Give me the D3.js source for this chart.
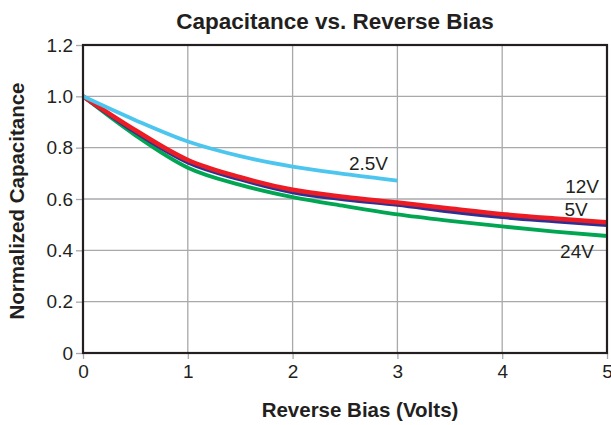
<!DOCTYPE html>
<html>
  <head>
    <meta charset="utf-8">
    <title>Capacitance vs. Reverse Bias</title>
    <script src="https://cdn.jsdelivr.net/npm/d3@7"></script>
    <style>
      body { margin: 0; background: #fff; }
      svg text { font-family: "Liberation Sans", Arial, Helvetica, sans-serif; fill: #231f20; }
      .title, .axisTitle { font-weight: bold; }
    </style>
  </head>

  <body>
    <svg id="chart" width="611" height="425"></svg>

    <script>
      // data
      bias = [0, 0.5, 1, 1.5, 2, 2.5, 3, 3.5, 4, 4.5, 5];
      cap2V5 = [1.0, 0.907, 0.824, 0.767, 0.726, 0.697, 0.672];
      cap5V = [1.0, 0.860, 0.742, 0.676, 0.626, 0.598, 0.577, 0.551, 0.529, 0.513, 0.498];
      cap12V = [1.0, 0.868, 0.752, 0.685, 0.636, 0.608, 0.586, 0.563, 0.541, 0.524, 0.509];
      cap24V = [1.0, 0.848, 0.722, 0.655, 0.607, 0.572, 0.540, 0.515, 0.493, 0.473, 0.456];
      seriesNames = ["24V", "5V", "12V", "2.5V"];
      xTicks = [0, 1, 2, 3, 4, 5];
      yTicks = [0, 0.2, 0.4, 0.6, 0.8, 1.0, 1.2];

      colors = { "24V": "#00a651", "5V": "#2e3192", "12V": "#ed1c24", "2.5V": "#4cc6ee" };
      // label anchors in data units
      labelPos = {
        "24V": [4.714, 0.37],
        "5V": [4.705, 0.532],
        "12V": [4.762, 0.623],
        "2.5V": [2.724, 0.713]
      };

      series = [cap24V, cap5V, cap12V, cap2V5].map(function(v, i) {
        return { name: seriesNames[i], values: v };
      });

      chart = d3.select("#chart");
      margin = { top: 45, right: 4, bottom: 72, left: 83 };
      width = 611;
      height = 425;

      x = d3.scaleLinear()
        .domain([0, 5])
        .range([margin.left, width - margin.right]);
      y = d3.scaleLinear()
        .domain([0, 1.2])
        .range([height - margin.bottom, margin.top]);

      // grid
      grid = chart.append("g");
      grid.selectAll(".vgrid")
        .data(xTicks.slice(1, -1))
        .enter().append("line")
          .attr("x1", function(d) { return x(d); })
          .attr("x2", function(d) { return x(d); })
          .attr("y1", y(0))
          .attr("y2", y(1.2))
          .attr("stroke", "#a7a9ac")
          .attr("stroke-width", 1.3);
      grid.selectAll(".hgrid")
        .data(yTicks.slice(1, -1))
        .enter().append("line")
          .attr("x1", x(0))
          .attr("x2", x(5))
          .attr("y1", function(d) { return y(d); })
          .attr("y2", function(d) { return y(d); })
          .attr("stroke", "#a7a9ac")
          .attr("stroke-width", 1.3);

      // axes
      xAxis = d3.axisBottom(x)
        .tickValues(xTicks)
        .tickFormat(d3.format("d"))
        .tickSize(6)
        .tickPadding(6)
        .tickSizeOuter(0);
      yAxis = d3.axisLeft(y)
        .tickValues(yTicks)
        .tickFormat(function(d) { return d === 0 ? "0" : d3.format(".1f")(d); })
        .tickSize(7)
        .tickPadding(3)
        .tickSizeOuter(0);

      xAxisGroup = chart.append("g")
        .attr("transform", "translate(0," + y(0) + ")")
        .call(xAxis);
      yAxisGroup = chart.append("g")
        .attr("transform", "translate(" + x(0) + ",0)")
        .call(yAxis);

      chart.selectAll(".domain").remove();
      chart.selectAll(".tick line")
        .attr("stroke", "#a7a9ac")
        .attr("stroke-width", 1.3);
      chart.selectAll(".tick text")
        .attr("font-size", 19)
        .style("font-family", "'Liberation Sans', Arial, sans-serif")
        .attr("fill", "#231f20");

      // curves
      line = d3.line()
        .x(function(d, i) { return x(bias[i]); })
        .y(function(d) { return y(d); })
        .curve(d3.curveMonotoneX);

      chart.append("g")
        .selectAll("path")
        .data(series)
        .enter().append("path")
          .attr("d", function(d) { return line(d.values); })
          .attr("fill", "none")
          .attr("stroke", function(d) { return colors[d.name]; })
          .attr("stroke-width", function(d) { return d.name === "12V" ? 4.5 : 3.8; })
          .attr("stroke-linecap", "butt");

      chart.append("g")
        .selectAll("text")
        .data(series)
        .enter().append("text")
          .attr("x", function(d) { return x(labelPos[d.name][0]); })
          .attr("y", function(d) { return y(labelPos[d.name][1]); })
          .attr("text-anchor", "middle")
          .attr("font-size", 19)
          .text(function(d) { return d.name; });

      // frame
      chart.append("rect")
        .attr("x", x(0))
        .attr("y", y(1.2))
        .attr("width", x(5) - x(0))
        .attr("height", y(0) - y(1.2))
        .attr("fill", "none")
        .attr("stroke", "#231f20")
        .attr("stroke-width", 2.2);

      // titles
      chart.append("text")
        .attr("class", "title")
        .attr("x", 335)
        .attr("y", 29)
        .attr("text-anchor", "middle")
        .attr("font-size", 22.5)
        .text("Capacitance vs. Reverse Bias");
      chart.append("text")
        .attr("class", "axisTitle")
        .attr("x", 360)
        .attr("y", 417)
        .attr("text-anchor", "middle")
        .attr("font-size", 20.5)
        .text("Reverse Bias (Volts)");
      chart.append("text")
        .attr("class", "axisTitle")
        .attr("transform", "translate(24,201) rotate(-90)")
        .attr("text-anchor", "middle")
        .attr("font-size", 20.5)
        .text("Normalized Capacitance");
    </script>
  </body>
</html>
